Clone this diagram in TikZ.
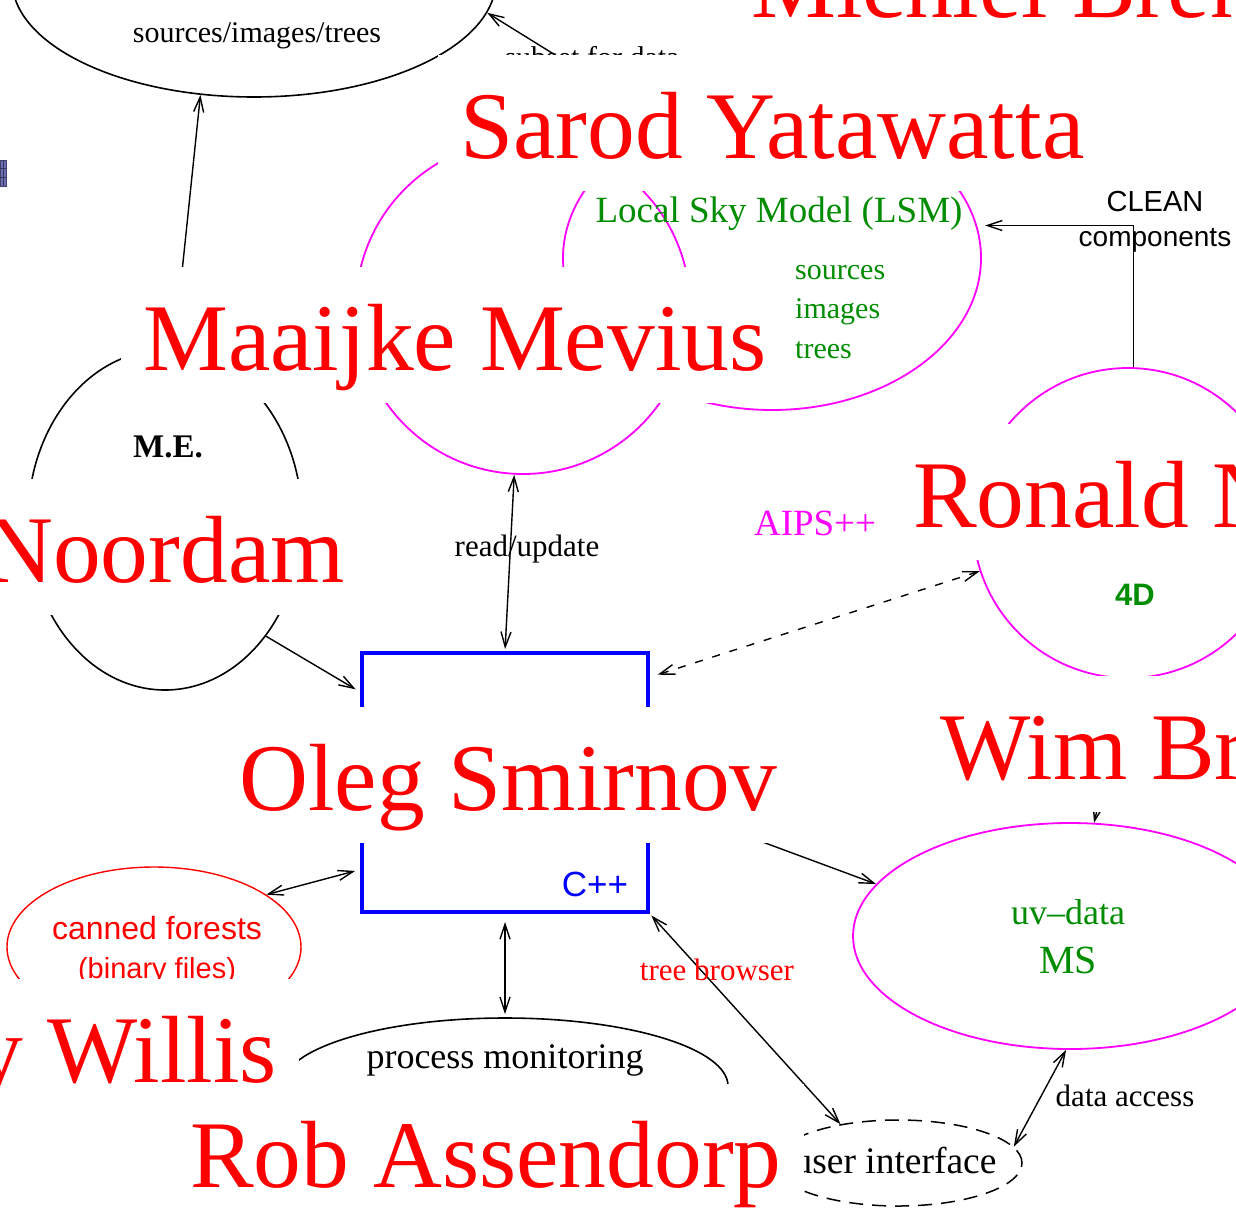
\documentclass[tikz,border=0pt]{standalone}
\usepackage{fontspec}
\setmainfont{Liberation Serif}
\newfontfamily\sansf{Liberation Sans}
\usetikzlibrary{shapes.geometric,arrows.meta}

\definecolor{mag}{RGB}{255,0,255}
\definecolor{grn}{RGB}{0,140,0}
\definecolor{nred}{RGB}{255,0,0}
\definecolor{cppblue}{RGB}{0,0,255}
\definecolor{iconblue}{RGB}{110,110,180}

\begin{document}
\begin{tikzpicture}[x=1pt,y=-1pt,
  blob/.style={ellipse, draw, inner sep=0pt, line width=1.6pt},
  mblob/.style={ellipse, draw=mag, inner sep=0pt, line width=1.8pt},
  lab/.style={inner sep=0pt},
  tip/.tip={Straight Barb[length=15pt,width=10pt]},
  arr/.style={line width=1.4pt, -tip},
  darr/.style={line width=1.4pt, tip-tip},
  person/.style={fill=white, text=nred, inner sep=0pt,
    font=\fontsize{95.5pt}{96pt}\selectfont,
    text height=81pt, text depth=11pt, inner xsep=22pt, inner ysep=22pt}
]
\useasboundingbox (0,0) rectangle (1236,1210);
\clip (0,0) rectangle (1236,1210);

% ---------- shapes of the block diagram ----------
\node[blob, minimum width=484pt, minimum height=234pt] (srcE) at (254,-20) {};
\node[mblob, minimum width=334pt, minimum height=334pt] (mcirc) at (523,307) {};
\node[mblob, minimum width=418pt, minimum height=304pt] (lsm) at (772,258) {};
\node[mblob, minimum width=310pt, minimum height=310pt] (fourd) at (1128,523) {};
\node[blob, minimum width=274pt, minimum height=340pt] (me) at (165,520) {};
\node[draw=cppblue, line width=4pt, inner sep=0pt,
      minimum width=286pt, minimum height=259pt] (cpp) at (505,782.5) {};
\node[ellipse, draw=nred, line width=1.4pt, inner sep=0pt,
      minimum width=294pt, minimum height=160pt] (canned) at (154,947) {};
\node[blob, minimum width=446pt, minimum height=136pt] (procm) at (505,1086) {};
\node[mblob, minimum width=434pt, minimum height=226pt] (uvd) at (1070,936) {};
\node[blob, dash pattern=on 14pt off 9pt, line width=1.5pt,
      minimum width=248pt, minimum height=86pt] (ui) at (898,1163) {};

% small icon at the left margin
\draw[fill=iconblue, draw=iconblue!60!black, line width=0.8pt] (0,160) rectangle (6,186);
\draw[iconblue!50!black, line width=0.6pt] (0,168) -- (6,168) (0,177) -- (6,177) (3,160) -- (3,186);

% ---------- connectors ----------
\draw[arr] (me.87) -- (srcE.245);
\draw[arr] (lsm.128) -- (srcE.352);
\draw[darr, shorten >=2pt] (mcirc.267) -- (cpp.north);
\draw[arr, shorten >=5pt] (me.311) -- (cpp.148);
\draw[darr, shorten >=5pt] (canned.25) -- (cpp.211);
\draw[darr, dash pattern=on 8pt off 10pt, shorten >=8pt] (fourd.198) -- (cpp.36);
\draw[arr, shorten >=8pt] (fourd.88) |- (lsm.9);
\draw[arr] (fourd.south) -- (uvd.78);
\draw[darr, shorten <=8pt, shorten >=3pt] (cpp.south) -- (procm.north);
\draw[arr] (cpp.353) -- (uvd.165);
\draw[darr, shorten <=2pt] (cpp.south east) -- (ui.146);
\draw[darr] (uvd.268) -- (ui.8);

% ---------- labels ----------
\node[lab, font=\fontsize{30pt}{32pt}\selectfont] (tSrc) at (257,36) {sources/images/trees};
\node[lab, font=\fontsize{30pt}{32pt}\selectfont, anchor=base] (tSub) at (592,67) {subset for data};
\node[lab, text=grn, font=\fontsize{37pt}{40pt}\selectfont] (tLsm) at (779,214) {Local Sky Model (LSM)};
\node[lab, text=grn, anchor=west, font=\fontsize{30pt}{32pt}\selectfont] (tSo) at (795,273) {sources};
\node[lab, text=grn, anchor=west, font=\fontsize{30pt}{32pt}\selectfont] (tIm) at (795,312) {images};
\node[lab, text=grn, anchor=west, font=\fontsize{30pt}{32pt}\selectfont] (tTr) at (795,350) {trees};
\node[lab, font=\sansf\fontsize{29pt}{32pt}\selectfont] (tClean) at (1155,202) {CLEAN};
\node[lab, font=\sansf\fontsize{28pt}{32pt}\selectfont] (tComp) at (1155,240) {components};
\node[lab, font=\bfseries\fontsize{33pt}{36pt}\selectfont] (tME) at (168,447) {M.E.};
\node[lab, text=mag, font=\fontsize{37pt}{40pt}\selectfont] (tAips) at (815,523) {AIPS++};
\node[lab, font=\fontsize{31pt}{34pt}\selectfont] (tRU) at (527,549) {read/update};
\node[lab, text=grn, font=\sansf\bfseries\fontsize{31pt}{34pt}\selectfont] (t4D) at (1135,595) {4D};
\node[lab, text=cppblue, font=\sansf\fontsize{35pt}{38pt}\selectfont] (tCpp) at (595,884) {C++};
\node[lab, text=nred, font=\sansf\fontsize{32pt}{34pt}\selectfont] (tCan) at (157,928) {canned forests};
\node[lab, text=nred, font=\sansf\fontsize{29pt}{32pt}\selectfont] (tBin) at (157,971) {(binary files)};
\node[lab, text=grn, font=\fontsize{36pt}{38pt}\selectfont] (tUv) at (1068,912) {uv–data};
\node[lab, text=grn, font=\fontsize{40pt}{42pt}\selectfont] (tMS) at (1068,960) {MS};
\node[lab, text=nred, font=\fontsize{31pt}{34pt}\selectfont] (tTB) at (717,970) {tree browser};
\node[lab, font=\fontsize{36pt}{38pt}\selectfont] (tPM) at (505,1060) {process monitoring};
\node[lab, font=\fontsize{37.5pt}{40pt}\selectfont] (tUI) at (895,1160) {user interface};
\node[lab, font=\fontsize{31pt}{34pt}\selectfont] (tDA) at (1125,1096) {data access};

% ---------- names on white plates, laid over the diagram ----------
\node[person, anchor=base west] (nMB) at (729,17) {Michiel Brentjens};
\node[person, anchor=base west] (nSY) at (438,158) {Sarod Yatawatta};
\node[person, anchor=base west] (nMM) at (121,370) {Maaijke Mevius};
\node[person, anchor=base east] (nJN) at (367,582) {Jan Noordam};
\node[person, anchor=base west] (nRN) at (891,527) {Ronald Nijboer};
\node[person, anchor=base west] (nOS) at (217,810) {Oleg Smirnov};
\node[person, anchor=base west] (nWB) at (918,779) {Wim Brouw};
\node[person, anchor=base east] (nTW) at (299,1082) {Tony Willis};
\node[person, anchor=base west] (nRA) at (168,1187) {Rob Assendorp};
\end{tikzpicture}
\end{document}
